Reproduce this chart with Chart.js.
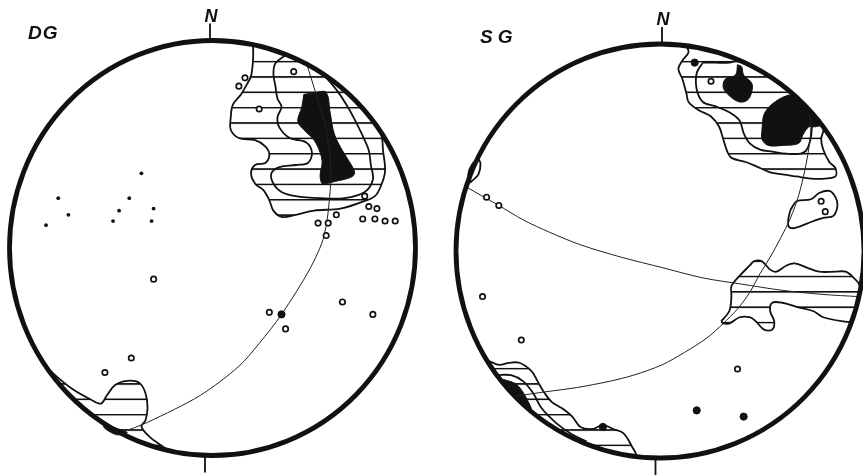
<!DOCTYPE html>
<html>
<head>
<meta charset="utf-8">
<script src="https://cdn.jsdelivr.net/npm/chart.js@4.4.1/dist/chart.umd.min.js"></script>
<style>
  html, body { margin: 0; padding: 0; background: #fff; overflow: hidden; }
  #wrap { position: relative; width: 863px; height: 475px; overflow: hidden; }
  canvas { position: absolute; top: 0; }
  #dg { left: 0; }
  #sg { left: 431px; }
</style>
</head>
<body>
<div id="wrap">
  <canvas id="dg" width="431" height="475"></canvas>
  <canvas id="sg" width="440" height="475"></canvas>
</div>
<script>
// stereonet coordinates, primitive circle has radius 100
const panelNames = ['DG', 'SG'];
const northLabel = 'N';

// ---- DG ----
const dgOpen = [[40,85],[16,82],[13,78],[23,67],[75,25],[77,20],[81,19],[74,14],[80,14],[85,13],[90,13],
  [52,12],[57,12],[56,6],[61,16],[-29,-15],[28,-31],[36,-39],[64,-26],[79,-32],[-40,-53],[-53,-60]];
const dgSolid = [[34,-32]];
const dgDots = [[-35,36],[-76,24],[-41,24],[-71,16],[-46,18],[-29,19],[-82,11],[-49,13],[-30,13]];
const dgGreat = [[-45,-89],[-32,-84],[-6,-71],[13,-57],[23,-46],[34,-32],[48,-10],[55,6],[58,28],[58,42],[56,57],[52,71],[46,90]];
const dgOuter = [[20,98],[20,91],[19,83],[17,79],[14,74],[10,69],[9,63],[9,57],[13,53],[21,52],[26,49],[28,45],
  [26,41],[21,40],[19,36],[21,31],[25,28],[28,23],[30,18],[34,15],[41,16],[50,18],[63,19],[73,22],[80,25],
  [83,30],[85,37],[84,47],[83,55],[77,64],[68,74],[55,83],[42,91],[30,95],[25,97],[20,98]];
const dgMid = [[36,93],[31,89],[30,84],[31,78],[32,72],[34,68],[32,63],[33,58],[38,53],[46,51],[49,46],[47,41],
  [41,40],[33,39],[29,36],[30,31],[34,27],[41,25],[53,24],[65,24],[75,27],[79,33],[78,40],[77,47],[74,54],
  [70,62],[66,69],[62,75],[57,81],[54,84],[48,88],[42,91],[36,93]];
const dgCore = [[45,74],[51,75],[56,75],[58,65],[60,55],[64,47],[69,39],[70,36],[68,34],[60,32],[56,31],[54,31],
  [53,35],[54,41],[53,46],[50,52],[45,57],[42,61],[44,68],[45,74]];
const dgLow = [[-82,-57],[-79,-60],[-69,-68],[-60,-73],[-55,-75],[-52,-71],[-48,-66],[-42,-64],[-36,-65],[-33,-70],
  [-32,-77],[-33,-83],[-35,-86],[-31,-91],[-24,-96],[-22,-98],[-36,-93],[-50,-86],[-64,-77],[-74,-67],[-82,-57]];
const dgLowCore = [[-54,-85],[-47,-87],[-42,-89],[-47,-90],[-53,-87],[-54,-85]];

// ---- SG ----
const sgOpen = [[25,82],[79,24],[81,19],[-85,26],[-79,22],[-87,-22],[-68,-43],[38,-57]];
const sgSolid = [[17,91],[18,-77],[41,-80],[-28,-85]];
const sgGreatA = [[-95,31],[-88,27],[-79,22],[-67,15],[-54,9],[-39,3],[-19,-3],[1,-8],[21,-13],[40,-16],[60,-19],[80,-21],[97,-22]];
const sgGreatB = [[-70,-70],[-56,-68],[-41,-66],[-25,-63],[-13,-60],[1,-55],[12,-49],[23,-42],[31,-35],[38,-28],
  [44,-20],[49,-11],[54,-3],[59,6],[64,16],[68,27],[71,39],[73,50],[74,60],[73,69]];
const sgOuter = [[13,99],[14,96],[11,92],[9,88],[11,83],[13,76],[14,72],[19,68],[25,65],[29,60],[31,54],[33,48],
  [35,45],[42,43],[47,41],[54,38],[60,37],[67,36],[74,35],[81,35],[86,36],[86,40],[83,43],[80,49],[79,54],
  [80,60],[70,71],[58,81],[43,90],[28,96],[13,99]];
const sgMid = [[21,91],[18,86],[18,78],[21,72],[27,70],[34,67],[39,63],[41,57],[44,52],[49,49],[55,48],[62,47],
  [69,47],[72,49],[74,55],[75,61],[79,62],[70,71],[58,81],[44,90],[38,92],[34,91],[27,91],[21,91]];
const sgCore = [[50,59],[51,66],[55,71],[62,75],[66,75],[72,69],[77,63],[79,61],[76,60],[73,60],[70,56],[68,52],
  [60,51],[53,51],[50,54],[50,59]];
const sgBlob = [[38,90],[40,89],[41,85],[45,81],[45,77],[43,73],[39,72],[34,75],[31,79],[32,83],[37,85],[38,90]];
const sgEast = [[30,-34],[34,-29],[35,-22],[35,-17],[39,-12],[44,-7],[46,-5],[50,-5],[54,-9],[57,-10],[62,-7],[66,-6],
  [72,-8],[78,-10],[86,-10],[91,-10],[95,-13],[98,-17],[97,-22],[95,-31],[94,-34],[90,-34],[80,-32],[75,-29],
  [67,-27],[60,-25],[55,-25],[54,-29],[56,-34],[55,-38],[51,-38],[47,-34],[44,-32],[39,-32],[34,-35],[31,-35],[30,-34]];
const sgIsle = [[64,20],[67,24],[74,25],[78,28],[83,29],[86,26],[87,22],[85,17],[80,16],[74,14],[69,12],[65,11],[63,12],[63,16],[64,20]];
const sgLoop = [[-93,33],[-94,37],[-92,42],[-89,44],[-88,42],[-89,37],[-92,34],[-93,33]];
const sgLow = [[-84,-53],[-79,-55],[-74,-54],[-69,-54],[-63,-58],[-60,-63],[-57,-68],[-53,-73],[-48,-76],[-43,-80],
  [-39,-85],[-33,-86],[-28,-84],[-23,-86],[-18,-88],[-14,-94],[-12,-99],[-28,-96],[-48,-88],[-64,-77],[-78,-62],[-84,-53]];
const sgLowCore = [[-77,-62],[-71,-64],[-68,-67],[-65,-72],[-63,-77],[-66,-76],[-71,-71],[-75,-66],[-77,-62]];
const sgLowInner = [[-80,-60],[-73,-60],[-67,-63],[-62,-69],[-58,-76],[-51,-83],[-44,-88],[-36,-92]];

const toXY = arr => arr.map(([x, y]) => ({ x, y }));

// horizontal line shading, same spacing on both nets
function hatchFill() {
  const tile = document.createElement('canvas');
  tile.width = 8; tile.height = 20;
  const g = tile.getContext('2d');
  g.fillStyle = '#111';
  g.fillRect(0, 0, 8, 2.1);
  const pat = g.createPattern(tile, 'repeat');
  pat.setTransform(new DOMMatrix([1, 0, 0, 15.35 / 20, 0, -0.6]));
  return pat;
}

const netFrame = {
  id: 'netFrame',
  afterDatasetsDraw(chart, args, opts) {
    const { ctx, scales: { x, y } } = chart;
    const cx = x.getPixelForValue(0), cy = y.getPixelForValue(0);
    const rx = x.getPixelForValue(100) - cx, ry = cy - y.getPixelForValue(100);
    ctx.save();
    ctx.strokeStyle = '#111';
    ctx.lineWidth = 4.8;
    ctx.beginPath();
    ctx.ellipse(cx, cy, rx, ry, 0, 0, Math.PI * 2);
    ctx.stroke();
    ctx.lineWidth = 1.8;
    ctx.beginPath();
    ctx.moveTo(cx + opts.northTick, cy - ry - 17);
    ctx.lineTo(cx + opts.northTick, cy - ry);
    ctx.moveTo(cx + opts.southTick, cy + ry);
    ctx.lineTo(cx + opts.southTick, cy + ry + 17);
    ctx.stroke();
    ctx.fillStyle = '#111';
    ctx.font = 'italic bold 18px "Liberation Sans", Arial, sans-serif';
    ctx.textAlign = 'center';
    ctx.fillText(northLabel, cx + opts.northTick + 1, cy - ry - 19);
    ctx.textAlign = 'left';
    ctx.font = 'italic bold 19px "Liberation Sans", Arial, sans-serif';
    ctx.letterSpacing = opts.spacing;
    ctx.fillText(opts.label, chart.chartArea.left + opts.labelX, chart.chartArea.top - 1.5);
    ctx.restore();
  }
};

function buildNet(id, p, pad, frame) {
  const hatch = hatchFill();
  const line = (data, extra) => Object.assign({
    data: toXY(data), showLine: true, pointRadius: 0, borderColor: '#111',
    borderWidth: 1.8, tension: 0.35, fill: false, clip: false
  }, extra);

  const datasets = [
    { data: toXY(p.solid), pointRadius: 3.6, pointBackgroundColor: '#111', pointBorderColor: '#111', pointBorderWidth: 1, clip: false },
    { data: toXY(p.open), pointRadius: 2.7, pointBackgroundColor: '#fff', pointBorderColor: '#111', pointBorderWidth: 1.7, clip: false },
    { data: toXY(p.dots), pointRadius: 1.9, pointBackgroundColor: '#111', pointBorderColor: '#111', pointBorderWidth: 0, clip: false },
    ...p.great.map(g => line(g, { borderWidth: 1, borderColor: '#222', tension: 0.3 })),
    ...p.solidAreas.map(a => line(a, { fill: 'shape', backgroundColor: '#111', borderWidth: 1 })),
    ...p.outlines.map(a => line(a)),
    ...p.hatched.map(a => line(a, { fill: 'shape', backgroundColor: hatch }))
  ];

  return new Chart(document.getElementById(id), {
    type: 'scatter',
    data: { datasets },
    plugins: [netFrame],
    options: {
      responsive: false,
      animation: false,
      events: [],
      layout: { padding: pad },
      scales: {
        x: { type: 'linear', min: -100, max: 100, display: false },
        y: { type: 'linear', min: -100, max: 100, display: false }
      },
      plugins: {
        legend: { display: false },
        tooltip: { enabled: false },
        netFrame: frame
      }
    }
  });
}

buildNet('dg', {
  solid: dgSolid, open: dgOpen, dots: dgDots,
  great: [dgGreat],
  solidAreas: [dgCore, dgLowCore],
  outlines: [dgMid],
  hatched: [dgOuter, dgLow]
}, { left: 9.5, right: 15.5, top: 40.5, bottom: 19.5 },
{ label: panelNames[0], labelX: 18.5, spacing: '1px', northTick: -2.5, southTick: -7.5 });

buildNet('sg', {
  solid: sgSolid, open: sgOpen, dots: [],
  great: [sgGreatA, sgGreatB],
  solidAreas: [sgCore, sgBlob, sgLowCore],
  outlines: [sgMid, sgIsle, sgLoop, sgLowInner],
  hatched: [sgOuter, sgEast, sgLow]
}, { left: 25, right: 7, top: 44, bottom: 17 },
{ label: panelNames[1], labelX: 24, spacing: '5px', northTick: 2, southTick: -4.5 });
</script>
</body>
</html>
